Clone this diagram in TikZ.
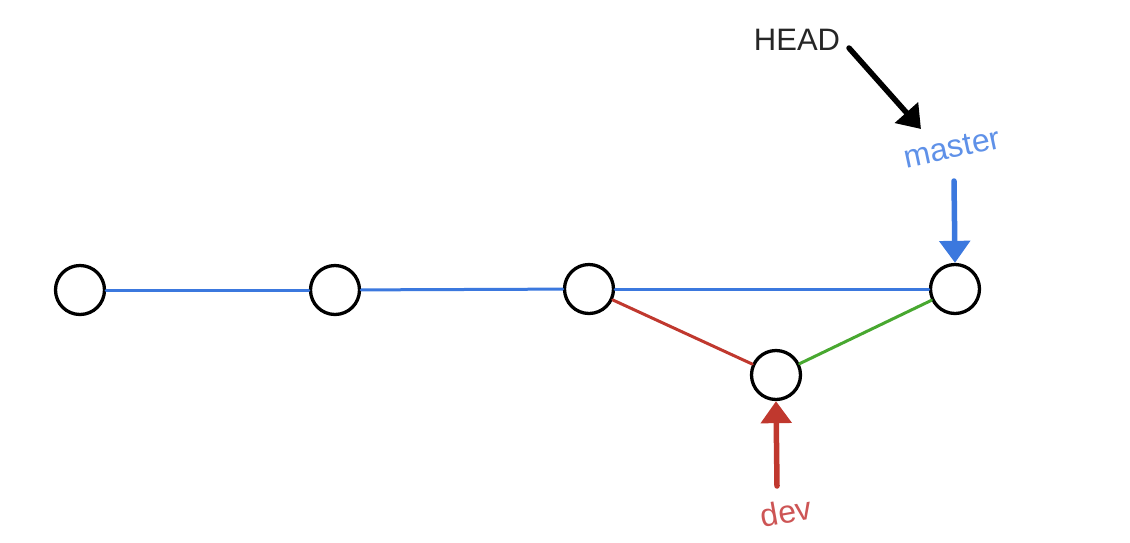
\documentclass[tikz,border=0pt]{standalone}
\usepackage{fontspec}
\setmainfont{Liberation Sans}
\usetikzlibrary{arrows.meta}
\definecolor{gblue}{RGB}{59,120,222}
\definecolor{gred}{RGB}{192,56,46}
\definecolor{ggreen}{RGB}{72,168,48}
\definecolor{tblue}{RGB}{95,145,232}
\definecolor{tred}{RGB}{205,85,85}
\tikzset{
  commit/.style={circle,draw=black,line width=3.3pt,minimum size=49pt,inner sep=0pt,fill=white},
  link/.style={line width=3pt,line cap=round},
  ptr/.style={line width=5.5pt,line cap=round,-{Triangle[length=22pt,width=30pt]}},
  lbl/.style={inner sep=0pt}
}
\begin{document}
\begin{tikzpicture}[x=1pt,y=-1pt]
\useasboundingbox (0,0) rectangle (1130,542);
\node[commit] (c1) at (80,290) {};
\node[commit] (c2) at (335,290) {};
\node[commit] (c3) at (589,289) {};
\node[commit] (c4) at (955,289) {};
\node[commit] (d1) at (776,375) {};
\draw[link,gblue] (c1) -- (c2);
\draw[link,gblue] (c2) -- (c3);
\draw[link,gblue] (c3) -- (c4);
\draw[link,gred] (c3) -- (d1);
\draw[link,ggreen] (d1) -- (c4);
\node[lbl,text=black!85,font=\fontsize{31}{34}\selectfont] (head) at (797,40) {HEAD};
\node[lbl,text=tblue,rotate=12,font=\fontsize{32}{35}\selectfont] (master) at (952,148) {master};
\node[lbl,text=tred,rotate=10,font=\fontsize{32}{35}\selectfont] (dev) at (786,512) {dev};
\coordinate (hs) at (849,48);
\coordinate (he) at (921,129);
\draw[ptr,black] (hs) -- (he);
\coordinate (ms) at (954,181);
\draw[ptr,gblue] (ms) -- (c4.north);
\coordinate (ds) at (777,486);
\draw[ptr,gred] (ds) -- (d1.south);
\end{tikzpicture}
\end{document}
